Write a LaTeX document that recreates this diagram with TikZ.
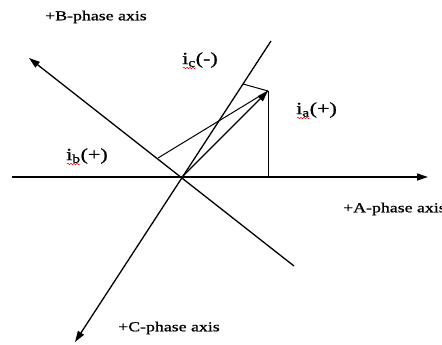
\documentclass[tikz,border=0pt]{standalone}
\usepackage{fontspec}
\setmainfont{Liberation Serif}[FakeStretch=1.3,FakeBold=1]
\usetikzlibrary{arrows.meta,decorations.pathmorphing}
\tikzset{
  axis/.style={line width=1.3pt,-{Triangle[length=11pt,width=7pt]}},
  thinline/.style={line width=1pt},
  phasor/.style={line width=1.3pt,-{Triangle[length=11pt,width=7pt]}},
  lbl/.style={inner sep=0pt,font=\fontsize{13.7}{15}\selectfont},
  cur/.style={inner sep=0pt,font=\fontsize{17}{19}\selectfont},
  wavy/.style={red,line width=0.5pt,decorate,decoration={snake,amplitude=0.8pt,segment length=3pt}}
}
\begin{document}
\begin{tikzpicture}[x=1pt,y=-1pt]
\useasboundingbox (0,0) rectangle (442,345);
\clip (0,0) rectangle (442,345);
% key points
\coordinate (O) at (182,177);
\coordinate (Aend) at (12,177);
\coordinate (Atip) at (428,177);
\coordinate (Bend) at (294,266);
\coordinate (Btip) at (29,58);
\coordinate (Cend) at (271,41);
\coordinate (Ctip) at (75,342);
\coordinate (P) at (268,91);
\coordinate (F) at (268,177);
\coordinate (Q) at (243,84);
\coordinate (R) at (158,158);
% axes
\draw[axis] (Aend) -- (Atip);
\draw[axis] (Bend) -- (Btip);
\draw[axis] (Cend) -- (Ctip);
% projections
\draw[thinline] (F) -- (P);
\draw[thinline] (Q) -- (P);
\draw[thinline] (R) -- (P);
% phasor
\draw[phasor] (O) -- (P);
% labels
\node[lbl,anchor=west] (lB) at (45,17) {+B-phase axis};
\node[lbl,anchor=west] (lA) at (343,209) {+A-phase axis};
\node[lbl,anchor=west] (lC) at (118,328) {+C-phase axis};
\node[cur,anchor=west] (lic) at (182,60) {i\textsubscript{c}(-)};
\node[cur,anchor=west] (lia) at (296,110) {i\textsubscript{a}(+)};
\node[cur,anchor=west] (lib) at (66,156) {i\textsubscript{b}(+)};
% spell-check underlines
\draw[wavy] (183,68) -- (196,68);
\draw[wavy] (297,118) -- (310,118);
\draw[wavy] (67,164) -- (80,164);
\end{tikzpicture}
\end{document}
